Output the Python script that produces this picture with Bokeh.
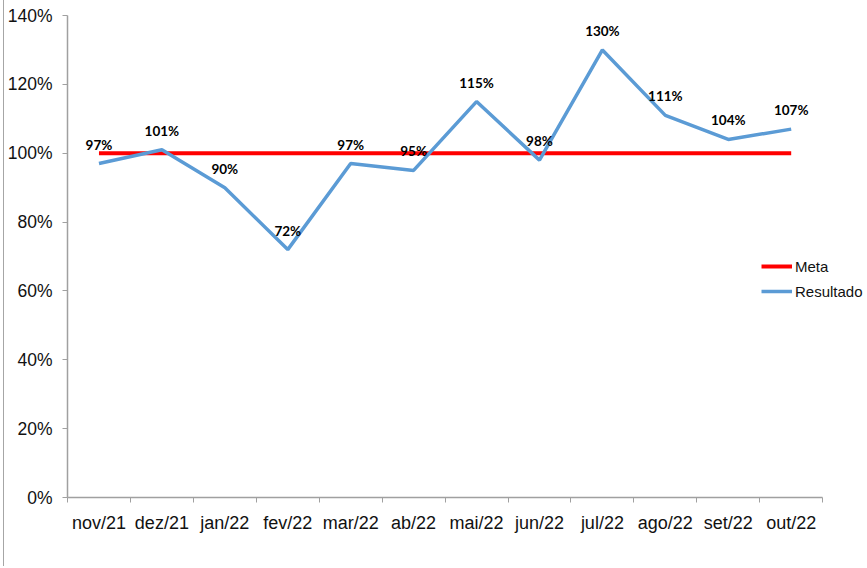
from bokeh.plotting import figure
from bokeh.models import (Range1d, FixedTicker, NumeralTickFormatter, Legend, LegendItem,
                          ColumnDataSource, LabelSet)
from bokeh.core.properties import value
from bokeh.embed import file_html
from bokeh.resources import INLINE

categories = ["nov/21", "dez/21", "jan/22", "fev/22", "mar/22", "ab/22",
              "mai/22", "jun/22", "jul/22", "ago/22", "set/22", "out/22"]
resultado = [0.97, 1.01, 0.90, 0.72, 0.97, 0.95, 1.15, 0.98, 1.30, 1.11, 1.04, 1.07]
meta = [1.00, 1.00, 1.00, 1.00, 1.00, 1.00, 1.00, 1.00, 1.00, 1.00, 1.00, 1.00]
y_ticks = [0.0, 0.2, 0.4, 0.6, 0.8, 1.0, 1.2, 1.4]

n = len(categories)
xpos = [i + 0.5 for i in range(n)]
labels = [f"{round(v * 100)}%" for v in resultado]

src = ColumnDataSource(dict(x=xpos, res=resultado, meta=meta, lab=labels))

# frame extends to the right edge so the legend is not clipped; axis drawn only over the categories
W, H = 861, 566
left, top, bottom = 60, 15, 69
frame_w = W - left
x_end = n * frame_w / 758.0

p = figure(width=W, height=H, output_backend="svg", toolbar_location=None,
           x_range=Range1d(0, x_end), y_range=Range1d(0, 1.4),
           min_border_left=left, min_border_right=0, min_border_top=top,
           min_border_bottom=bottom)
p.styles = {"border-left": "1px solid #A6A6A6", "margin-left": "3px"}
p.xgrid.visible = False
p.ygrid.visible = False
p.outline_line_color = None
p.background_fill_color = "white"
p.border_fill_color = "white"

axis_color = "#A0A0A0"
p.xaxis.bounds = (0, n)
p.xaxis.ticker = FixedTicker(ticks=xpos, minor_ticks=list(range(n + 1)))
p.xaxis.major_label_overrides = {x: c for x, c in zip(xpos, categories)}
p.xaxis.major_tick_line_color = None
p.xaxis.minor_tick_line_color = axis_color
p.xaxis.minor_tick_out = 5
p.xaxis.minor_tick_in = 0
p.xaxis.axis_line_color = axis_color
p.xaxis.axis_line_width = 1.5
p.xaxis.major_label_text_font = "Liberation Sans"
p.xaxis.major_label_text_font_size = "18px"
p.xaxis.major_label_text_color = "#111111"
p.xaxis.major_label_standoff = 9

p.yaxis.ticker = FixedTicker(ticks=y_ticks)
p.yaxis.formatter = NumeralTickFormatter(format="0%")
p.yaxis.minor_tick_line_color = None
p.yaxis.major_tick_line_color = axis_color
p.yaxis.major_tick_out = 5
p.yaxis.major_tick_in = 0
p.yaxis.axis_line_color = axis_color
p.yaxis.axis_line_width = 1.5
p.yaxis.major_label_text_font = "Liberation Sans"
p.yaxis.major_label_text_font_size = "17.5px"
p.yaxis.major_label_text_color = "#111111"
p.yaxis.major_label_standoff = 10

r_meta = p.line("x", "meta", source=src, line_color="#FF0000", line_width=4)
r_res = p.line("x", "res", source=src, line_color="#5B9BD5", line_width=3.5)

lbl = LabelSet(x="x", y="res", text="lab", source=src, text_align="center",
               text_baseline="middle", y_offset=19, text_font=value("Lato"),
               text_font_style="bold", text_font_size=value("13.5px"),
               text_color="#000000")
p.add_layout(lbl)

legend = Legend(items=[LegendItem(label="Meta", renderers=[r_meta]),
                       LegendItem(label="Resultado", renderers=[r_res])],
                location=(694, 196), orientation="vertical",
                padding=0, margin=0, spacing=5, glyph_width=31, glyph_height=20,
                label_height=20, label_standoff=3,
                label_text_font="Liberation Sans", label_text_font_size="15px",
                label_text_color="#111111",
                border_line_color=None, background_fill_alpha=0)
p.add_layout(legend, "center")

open("out.html", "w").write(file_html(p, INLINE))
